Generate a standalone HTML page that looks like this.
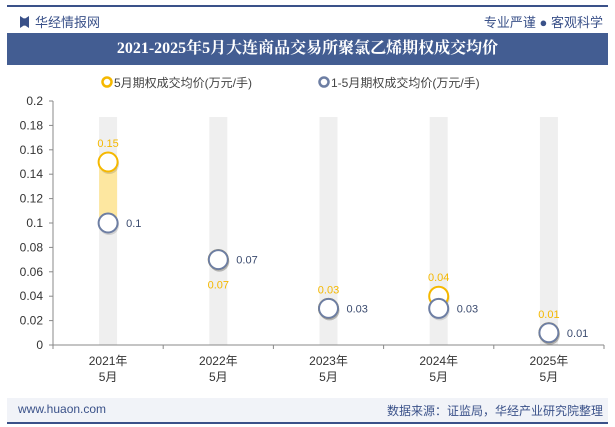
<!DOCTYPE html>
<html><head><meta charset="utf-8"><style>
body{margin:0;width:615px;height:427px;overflow:hidden;background:#fff;font-family:"Liberation Sans","Noto Sans CJK SC",sans-serif;position:relative}
.abs{position:absolute}
</style></head><body>
<div class="abs" style="left:7px;top:5px;width:601px;height:2px;background:#3a5189"></div>
<div class="abs" style="left:20px;top:12px;font-size:13px;color:#3a5189"><span style="display:inline-block;width:9px;height:12px;background:#3a5189;vertical-align:-1px;margin-right:6px;clip-path:polygon(0 0,40% 20%,60% 20%,100% 0,100% 100%,60% 80%,40% 80%,0 100%)"></span>华经情报网</div>
<div class="abs" style="right:12px;top:12px;font-size:13px;color:#3a5189">专业严谨 ● 客观科学</div>
<div class="abs" style="left:7px;top:33px;width:601px;height:32px;background:#435d92;color:#fff;font-weight:bold;font-size:16px;line-height:32px;text-align:center;font-family:'Liberation Serif','Noto Serif CJK SC',serif">2021-2025年5月大连商品交易所聚氯乙烯期权成交均价</div>
<svg class="abs" style="left:0;top:0" width="615" height="427" id="chart">
<g font-size="12" fill="#444">
<circle cx="107" cy="82" r="4.5" fill="none" stroke="#f5b800" stroke-width="2.5"/>
<text x="114" y="87">5月期权成交均价(万元/手)</text>
<circle cx="324" cy="82" r="4.5" fill="none" stroke="#6d7ea3" stroke-width="2.5"/>
<text x="331" y="87">1-5月期权成交均价(万元/手)</text>
</g>
<g id="plot"></g>
</svg>
<div class="abs" style="left:7px;top:398px;width:601px;height:24px;background:#f1f3f8;border-bottom:2px solid #3a5189"></div>
<div class="abs" style="left:18px;top:402px;font-size:12px;color:#3a5189">www.huaon.com</div>
<div class="abs" style="right:12px;top:402px;font-size:12px;color:#3a5189">数据来源：证监局，华经产业研究院整理</div>
<script>
const categories=["2021年|5月","2022年|5月","2023年|5月","2024年|5月","2025年|5月"];
const mayValues=[0.15,0.07,0.03,0.04,0.01];
const ytdValues=[0.1,0.07,0.03,0.03,0.01];
const yTicks=[0,0.02,0.04,0.06,0.08,0.1,0.12,0.14,0.16,0.18,0.2];
const x0=53,x1=604,yb=345,yt=101,ymax=0.2;
const bw=(x1-x0)/categories.length;
const X=i=>x0+bw*(i+0.5);
const Y=v=>yb-(v/ymax)*(yb-yt);
const g=document.getElementById('plot');const NS='http://www.w3.org/2000/svg';
function el(t,a,txt){const e=document.createElementNS(NS,t);for(const k in a)e.setAttribute(k,a[k]);if(txt!=null)e.textContent=txt;g.appendChild(e);return e;}
let e;
categories.forEach((c,i)=>{
 e=el('rect',{x:X(i)-9,y:117,width:18,height:yb-117,fill:'#efefef'});
 
 
 const a=Math.min(mayValues[i],ytdValues[i]),b=Math.max(mayValues[i],ytdValues[i]);
 e=el('rect',{x:X(i)-9,y:Y(b),width:18,height:Y(a)-Y(b),fill:'#fde7a0'});
 
 
});
e=el('line',{x1:x0,y1:yt,x2:x0,y2:yb,stroke:'#888'});


e=el('line',{x1:x0,y1:yb,x2:x1,y2:yb,stroke:'#888'});


yTicks.forEach(v=>{
 el('line',{x1:x0-4,y1:Y(v),x2:x0,y2:Y(v),stroke:'#888'});
 e=el('text',{x:x0-10,y:Y(v)+4,'text-anchor':'end','font-size':12,fill:'#333'},String(v));
 
 
});
categories.forEach((c,i)=>{
 el('line',{x1:x0+bw*i,y1:yb,x2:x0+bw*i,y2:yb+4,stroke:'#888'});
 if(i==categories.length-1)el('line',{x1:x1,y1:yb,x2:x1,y2:yb+4,stroke:'#888'});
 const p=c.split('|');
 e=el('text',{x:X(i),y:yb+20,'text-anchor':'middle','font-size':12,fill:'#333'},p[0]);
 
 
 el('text',{x:X(i),y:yb+36,'text-anchor':'middle','font-size':12,fill:'#333'},p[1]);
});
categories.forEach((c,i)=>{
 e=el('circle',{cx:X(i)+1,cy:Y(mayValues[i])+2,r:10,fill:'#0002'});
 e=el('circle',{cx:X(i),cy:Y(mayValues[i]),r:9.5,fill:'#fff',stroke:'#f5b800','stroke-width':2});
 
 
 const below=mayValues[i]<=ytdValues[i]&&i==1;
 e=el('text',{x:X(i),y:below?Y(mayValues[i])+29:Y(mayValues[i])-15,'text-anchor':'middle','font-size':11,fill:'#f5b800'},String(mayValues[i]));
 
 
 el('circle',{cx:X(i)+1,cy:Y(ytdValues[i])+2,r:10,fill:'#0002'});
 e=el('circle',{cx:X(i),cy:Y(ytdValues[i]),r:9.5,fill:'#fff',stroke:'#6d7ea3','stroke-width':2});
 
 
 e=el('text',{x:X(i)+18,y:Y(ytdValues[i])+4,'font-size':11,fill:'#3a4a6e'},String(ytdValues[i]));
 
 
});
</script>
</body></html>
